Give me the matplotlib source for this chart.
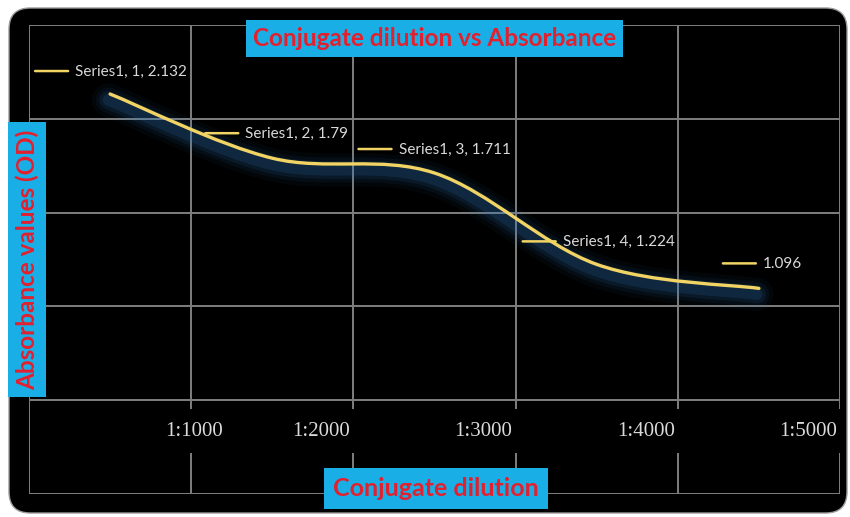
import numpy as np
import matplotlib
matplotlib.use("Agg")
import matplotlib.pyplot as plt
from matplotlib.path import Path
from matplotlib.patches import PathPatch, FancyBboxPatch, Rectangle
import matplotlib.transforms as mtransforms

# Chart data
dilutions = ["1:1000", "1:2000", "1:3000", "1:4000", "1:5000"]
series_name = "Series1"
absorbance = [2.132, 1.79, 1.711, 1.224, 1.096]
point_labels = ["Series1, 1, 2.132", "Series1, 2, 1.79", "Series1, 3, 1.711",
                "Series1, 4, 1.224", "1.096"]

title = "Conjugate dilution vs Absorbance"
xlabel = "Conjugate dilution"
ylabel = "Absorbance values (OD)"

W, H = 850, 517
fig = plt.figure(figsize=(W / 100, H / 100), dpi=100)
fig.patch.set_facecolor("white")

# rounded black panel behind the chart
panel = FancyBboxPatch((9 / W, 4 / H), 838 / W, 505 / H,
                       boxstyle="round,pad=0,rounding_size=0.025",
                       transform=fig.transFigure, facecolor="black",
                       edgecolor="#9a9a9a", linewidth=1.0, mutation_aspect=W / H,
                       zorder=-5)
fig.patches.append(panel)

ax = fig.add_axes([29 / W, 1 - 494 / H, 811 / W, 469 / H])
ax.set_facecolor("black")
ax.set_xlim(0, len(dilutions))
ax.set_ylim(0, 2.5)
ax.set_xticks(np.arange(0, len(dilutions) + 1))
ax.set_yticks(np.arange(0, 2.51, 0.5))
ax.tick_params(length=0, labelbottom=False, labelleft=False)
ax.grid(True, color="#7f7f7f", linewidth=1.4)
ax.set_axisbelow(True)
for s in ax.spines.values():
    s.set_visible(False)

# gap in the vertical grid lines behind the category labels
ax.add_patch(Rectangle((0.04, 0.22), len(dilutions), 0.235, facecolor="black",
                       edgecolor="none", zorder=1))

tick_color = "#dadada"
for i, lab in enumerate(dilutions):
    pos = i + 1
    if i == 0:
        ax.text(pos + 0.02, 0.335, lab, ha="center", va="center", color=tick_color,
                fontsize=15, family="Liberation Serif", zorder=3)
    else:
        ax.text(pos - 0.02, 0.335, lab, ha="right", va="center", color=tick_color,
                fontsize=15, family="Liberation Serif", zorder=3)

# smoothed line through the category centres
x = np.arange(len(absorbance)) + 0.5
y = np.array(absorbance)
pts = np.column_stack([x, y])
ext = np.vstack([pts[0], pts, pts[-1]])
verts = [pts[0]]
codes = [Path.MOVETO]
for i in range(len(pts) - 1):
    p0, p1, p2, p3 = ext[i], ext[i + 1], ext[i + 2], ext[i + 3]
    c1 = p1 + (p2 - p0) / 6
    c2 = p2 - (p3 - p1) / 6
    verts += [c1, c2, p2]
    codes += [Path.CURVE4] * 3
curve = Path(np.array(verts), codes)

# soft blue glow under the line
glow_tr = mtransforms.offset_copy(ax.transData, fig=fig, x=-2, y=-6, units="dots")
for lw, a in [(24, 0.05), (18, 0.07), (13, 0.10), (8, 0.16)]:
    ax.add_patch(PathPatch(curve, facecolor="none", edgecolor="#2f7cc4",
                           linewidth=lw, alpha=a, capstyle="round",
                           transform=glow_tr, zorder=4))
ax.add_patch(PathPatch(curve, facecolor="none", edgecolor="#f2d464",
                       linewidth=2.4, capstyle="round", zorder=5))

# data labels with a short legend-key line
key_offsets = [(-75, 23), (-67, 25), (-76, 24), (-74, 23), (-36, 25)]
for (px, py), lab, (dx, dy) in zip(pts, point_labels, key_offsets):
    seg_x0 = mtransforms.offset_copy(ax.transData, fig=fig, x=dx, y=dy, units="dots")
    seg_x1 = mtransforms.offset_copy(ax.transData, fig=fig, x=dx + 33, y=dy, units="dots")
    ax.annotate("", xy=(px, py), xycoords=seg_x1, xytext=(px, py), textcoords=seg_x0,
                arrowprops=dict(arrowstyle="-", color="#f2d464", lw=1.8,
                                shrinkA=0, shrinkB=0), zorder=6)
    ax.annotate(lab, xy=(px, py), xytext=(dx + 40, dy - 1), textcoords="offset pixels",
                ha="left", va="center", color="#d9d9d9", fontsize=11,
                family="Lato", zorder=6)

box = dict(boxstyle="square,pad=0.3", facecolor="#1aaee6", edgecolor="none")
fig.text(434.5 / W, 1 - 38.5 / H, title, ha="center", va="center", color="#e3202e",
         fontsize=17.5, fontweight="bold", family="Lato", bbox=box)
fig.text(436 / W, 1 - 488.5 / H, xlabel, ha="center", va="center", color="#e3202e",
         fontsize=18, fontweight="bold", family="Lato",
         bbox=dict(boxstyle="square,pad=0.35", facecolor="#1aaee6", edgecolor="none"))
fig.text(27 / W, 1 - 259.5 / H, ylabel, ha="center", va="center", color="#e3202e",
         fontsize=17.5, fontweight="bold", family="Lato", rotation=90, bbox=box)

fig.savefig("out.png", dpi=100, facecolor="white")
